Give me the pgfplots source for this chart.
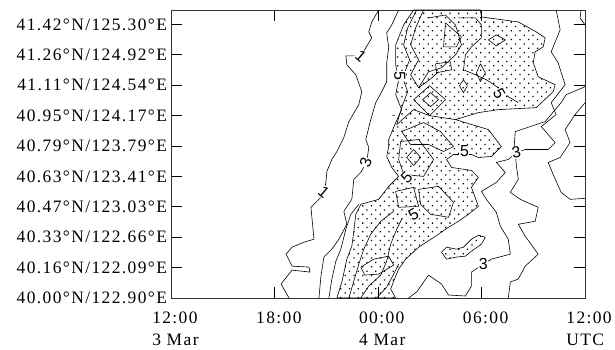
\documentclass[border=0pt]{standalone}
\usepackage{pgfplots}
\pgfplotsset{compat=1.18}
\usetikzlibrary{patterns.meta}
\usepackage{fontspec}
\setmainfont{Liberation Serif}
\newfontfamily\tickfont[LetterSpace=8]{Liberation Serif}
\newfontfamily\labfont{Liberation Sans}
\pgfplotsset{
  cl/.style={black, line width=0.6bp, no markers, line join=round},
  st/.style={draw=black, line width=0.6bp, no markers, line join=round,
     pattern={Dots[radius=0.9bp, distance=6.2bp, angle=45]}, pattern color=black},
}
\tikzset{lab/.style={fill=white, inner sep=0.6bp, font=\labfont\fontsize{16bp}{16bp}\selectfont}}
\begin{document}
\begin{tikzpicture}
\begin{axis}[
  scale only axis, width=415bp, height=289bp,
  xmin=172, xmax=587, ymin=10, ymax=299, y dir=reverse,
  xtick={172,275.75,379.5,483.25,587},
  xticklabels={{12:00\\3 Mar},{18:00},{00:00\\4 Mar},{06:00},{12:00\\UTC}},
  ytick={24.5,55,85.5,116,146.5,177,207.5,238,268.5,299},
  yticklabels={41.42°N/125.30°E,41.26°N/124.92°E,41.11°N/124.54°E,40.95°N/124.17°E,40.79°N/123.79°E,40.63°N/123.41°E,40.47°N/123.03°E,40.33°N/122.66°E,40.16°N/122.09°E,40.00°N/122.90°E},
  tick align=inside, major tick length=11bp,
  axis line style={black!80, line width=0.9bp},
  tick style={black, line width=0.8bp},
  ticklabel style={font=\tickfont\fontsize{17.5bp}{22bp}\selectfont},
  xticklabel style={align=left, yshift=-10bp, xshift=4bp},
  yticklabel style={xshift=-1bp},
]
% stippled region (>=5)
\addplot[st] coordinates {(415,10) (482,10) (483,17) (520,22) (538,32) (547,38) (545,47) (537,52) (535,63) (540,77) (557,85) (555,92) (538,108) (500,110) (480,113) (457,120) (480,127) (490,130) (503,147) (493,157) (480,158) (473,155) (455,155) (448,160) (453,168) (473,171) (480,178) (473,188) (480,207) (470,215) (460,222) (450,228) (437,237) (420,248) (407,260) (400,270) (397,277) (392,290) (397,299) (338,299) (343,283) (348,260) (353,247) (355,232) (357,215) (362,205) (380,200) (390,187) (400,177) (393,168) (388,157) (390,147) (390,140) (397,123) (403,110) (397,95) (400,80) (397,65) (397,45) (405,25) (415,10)};
\addplot[st] coordinates {(443,253) (448,248) (458,250) (465,248) (473,240) (480,236) (487,238) (483,245) (473,252) (467,257) (457,258) (448,260) (443,253)};
% contour lines west
\addplot[cl] coordinates {(380,10) (373,22) (370,32) (373,38) (367,48) (362,56) (347,56) (348,65) (357,75) (363,92) (360,105) (350,122) (345,138) (338,152) (333,160) (328,172) (327,183) (325,193) (322,198) (312,208) (315,240) (305,243) (293,248) (287,255) (293,267) (310,268) (311,273) (293,271) (282,285) (290,299)};
\addplot[cl] coordinates {(400,10) (393,25) (388,33) (390,48) (388,63) (388,82) (383,92) (377,103) (372,120) (367,140) (370,148) (368,162) (362,173) (355,180) (353,200) (345,212) (348,225) (340,240) (333,250) (325,258) (322,277) (320,299)};
\addplot[cl] coordinates {(360,205) (352,215) (347,230) (342,250) (337,262) (333,280) (330,299)};
% contour lines east
\addplot[cl] coordinates {(558,10) (562,30) (553,52) (560,63) (567,85) (553,103) (558,115) (543,127) (557,143) (550,150) (527,150) (518,153) (510,160) (498,163) (507,173) (498,183) (483,192) (488,200) (498,213) (502,227) (510,240) (512,255) (493,260) (485,265) (473,273) (473,287) (467,297) (450,296) (443,285) (430,276) (418,293) (410,299)};
\addplot[cl] coordinates {(587,87) (568,95) (563,103) (547,122) (517,132) (516,145) (518,165) (520,180) (512,193) (522,200) (540,208) (537,222) (520,225) (527,237) (540,255) (527,267) (520,280) (512,283) (510,299)};
\addplot[cl] coordinates {(587,103) (577,115) (567,130) (572,143) (562,158) (550,163) (555,175) (563,193) (572,200) (587,199)};
\addplot[cl] coordinates {(583,10) (582,18) (587,25)};
% inner contours, northern lobe
\addplot[cl] coordinates {(418,10) (409,28) (405,45) (411,60) (404,78) (409,92) (403,108) (398,125)};
\addplot[cl] coordinates {(425,10) (417,28) (412,45) (420,60) (412,75) (420,88) (431,80) (440,72)};
\addplot[cl] coordinates {(430,18) (447,15) (457,25) (463,45) (457,55) (443,68) (430,72) (420,88)};
\addplot[cl] coordinates {(447,23) (463,37) (458,47) (445,47) (447,23)};
\addplot[cl] coordinates {(437,64) (452,62) (453,70) (438,73) (437,64)};
\addplot[cl] coordinates {(465,80) (469,86) (465,93) (461,86) (465,80)};
\addplot[cl] coordinates {(482,64) (487,73) (482,82) (478,73) (482,64)};
\addplot[cl] coordinates {(490,40) (498,35) (507,40) (498,46) (490,40)};
\addplot[cl] coordinates {(460,18) (477,18) (483,25) (483,38) (473,47) (467,55) (465,70) (477,75) (488,80) (500,88) (510,97) (520,103)};
\addplot[cl] coordinates {(432,93) (440,100) (432,107) (424,100) (432,93)};
\addplot[cl] coordinates {(431,86) (447,100) (431,116) (415,100) (431,86)};
\addplot[cl] coordinates {(398,125) (415,110) (431,116) (457,120)};
% inner contours, southern lobe
\addplot[cl] coordinates {(403,132) (425,123) (442,132) (455,147) (445,152) (430,145) (412,145) (403,132)};
\addplot[cl] coordinates {(415,150) (422,158) (415,166) (408,158) (415,150)};
\addplot[cl] coordinates {(402,142) (420,140) (435,160) (425,177) (405,175) (400,160) (402,142)};
\addplot[cl] coordinates {(397,192) (415,188) (420,207) (400,208) (397,192)};
\addplot[cl] coordinates {(420,190) (440,187) (455,203) (450,218) (432,215) (422,205) (420,190)};
\addplot[cl] coordinates {(350,299) (355,282) (360,265) (365,250) (372,235) (382,222) (395,212)};
\addplot[cl] coordinates {(362,299) (370,287) (382,276) (388,262) (392,245) (398,230) (403,220)};
\addplot[cl] coordinates {(378,299) (388,288) (395,275) (400,265)};
\addplot[cl] coordinates {(362,268) (375,260) (390,257) (395,266) (380,275) (366,276) (362,268)};
% labels
\node[lab, rotate=-40] at (axis cs:362,56) {1};
\node[lab, rotate=-40] at (axis cs:325,193) {1};
\node[lab, rotate=70] at (axis cs:367,163) {3};
\node[lab, rotate=10] at (axis cs:518,153) {3};
\node[lab] at (axis cs:485,265) {3};
\node[lab, rotate=-90] at (axis cs:401,76) {5};
\node[lab, rotate=45] at (axis cs:408,178) {5};
\node[lab, rotate=30] at (axis cs:415,215) {5};
\node[lab] at (axis cs:466,152) {5};
\node[lab, rotate=-60] at (axis cs:501,94) {5};
\node[lab, font=\labfont\fontsize{10bp}{10bp}\selectfont] at (axis cs:395,117) {-};
\end{axis}
\path (current axis.south west) ++(-172bp,-52bp) rectangle ++(615bp,351bp);
\end{tikzpicture}
\end{document}
